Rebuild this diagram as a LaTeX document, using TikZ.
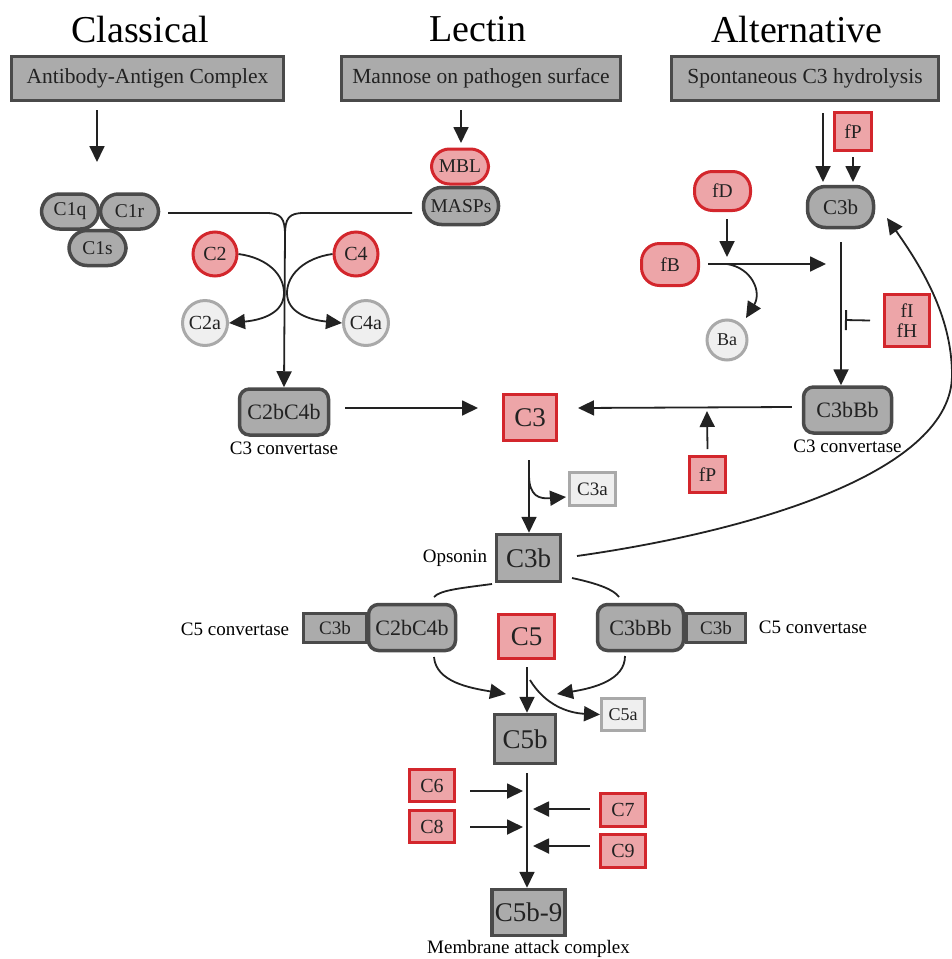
\documentclass[tikz,border=0pt]{standalone}
\usepackage{fontspec}
\setmainfont{Liberation Serif}
\usetikzlibrary{arrows.meta,positioning}
\definecolor{gfill}{HTML}{ABABAB}
\definecolor{gline}{HTML}{4A4A4A}
\definecolor{rfill}{HTML}{EDA5A8}
\definecolor{rline}{HTML}{D3262C}
\definecolor{lfill}{HTML}{EFEFEF}
\definecolor{lline}{HTML}{A9A9A9}
\definecolor{ink}{HTML}{222222}
\tikzset{
  gbox/.style={draw=gline, fill=gfill, line width=3.5pt, inner sep=0pt, text=ink},
  rbox/.style={draw=rline, fill=rfill, line width=3pt, inner sep=0pt, text=ink},
  lbox/.style={draw=lline, fill=lfill, line width=3pt, inner sep=0pt, text=ink},
  pill/.style={rounded corners=18pt},
  rr/.style={rounded corners=10pt},
  lbl/.style={font=\fontsize{19}{21}\selectfont, text=black},
  ln/.style={draw=ink, line width=1.8pt},
  arr/.style={ln, -{Triangle[length=16pt,width=15pt]}},
  inh/.style={ln, -{Bar[width=20pt,line width=2pt]}},
  fs/.style={font=\fontsize{#1}{#1}\selectfont}
}
\begin{document}
\begin{tikzpicture}[x=1pt,y=-1pt]
\useasboundingbox (0,0) rectangle (952,959);
% headings
\node[fs=38] (hcl) at (140,29) {Classical};
\node[fs=38] (hle) at (478,29) {Lectin};
\node[fs=38] (hal) at (797,29) {Alternative};
% trigger boxes
\node[gbox, minimum width=272, minimum height=44, fs=21.5] (ab) at (147.5,78.5) {Antibody-Antigen Complex};
\node[gbox, minimum width=279, minimum height=44, fs=21.5] (man) at (481,78.5) {Mannose on pathogen surface};
\node[gbox, minimum width=267, minimum height=44, fs=21.5] (spo) at (805,78.5) {Spontaneous C3 hydrolysis};
% classical C1
\node[gbox, pill, minimum width=57, minimum height=35, fs=19.5] (c1s) at (97.5,248) {C1s};
\node[gbox, pill, minimum width=57, minimum height=35, fs=19.5] (c1q) at (70,211.5) {C1q};
\node[gbox, pill, minimum width=58, minimum height=35, fs=19.5] (c1r) at (129.5,211.5) {C1r};
\coordinate (c1out) at (168,213);
\draw[arr] (97,110) -- (97,162);
% lectin
\node[rbox, pill, minimum width=57, minimum height=35, fs=19.5] (mbl) at (460,166.5) {MBL};
\node[gbox, pill, minimum width=75, minimum height=37, fs=19.5] (masp) at (461,206) {MASPs};
\coordinate (maspout) at (412,213);
\draw[arr] (461,110) -- (461,143);
% merge
\coordinate (jn) at (285,235);
\node[gbox, rr, minimum width=89, minimum height=46, fs=22] (c2c4) at (284,412) {C2bC4b};
\node[lbl, below=2pt of c2c4] (cc1) {C3 convertase};
\draw[ln] (c1out) -- (266,213) .. controls (281,213) and (285,218) .. (jn);
\draw[ln] (maspout) -- (304,213) .. controls (289,213) and (285,218) .. (jn);
\draw[arr] (jn) -- (c2c4.north);
% C2 / C4
\node[rbox, circle, minimum size=44, fs=20] (c2) at (215,254) {C2};
\node[rbox, circle, minimum size=44, fs=20] (c4) at (356,254) {C4};
\node[lbox, circle, minimum size=45, fs=20] (c2a) at (205,323) {C2a};
\node[lbox, circle, minimum size=45, fs=20] (c4a) at (366,323) {C4a};
\draw[arr] (c2.east) .. controls (268,258) and (284,275) .. (284,293) .. controls (284,313) and (262,320) .. (c2a.east);
\draw[arr] (c4.west) .. controls (304,258) and (287,275) .. (287,293) .. controls (287,313) and (310,320) .. (c4a.west);
% C3
\node[rbox, minimum width=53, minimum height=46, fs=27] (c3) at (530,417.5) {C3};
\coordinate (c3in1) at (478,408);
\coordinate (c3in2) at (578,408);
\draw[arr] (345,408) -- (c3in1);
% alternative
\node[rbox, minimum width=37, minimum height=38, fs=19.5] (fp1) at (853,131.5) {fP};
\node[gbox, pill, minimum width=66, minimum height=41, fs=21] (c3bt) at (840.5,207) {C3b};
\draw[arr] (823,113) -- (823,182);
\draw[arr] (853,157) -- (853,182);
\node[rbox, pill, minimum width=56, minimum height=39, fs=19.5] (fd) at (722.5,191) {fD};
\node[rbox, pill, minimum width=57, minimum height=42, fs=19.5] (fb) at (670,264.5) {fB};
\node[lbox, circle, minimum size=40, fs=18] (ba) at (727,340) {Ba};
\draw[arr] (fd.south) ++(4.5,7) -- (727,257);
\coordinate (fbj) at (727,264);
\draw[ln] (708,264) -- (fbj);
\draw[arr] (fbj) -- (826,264);
\draw[arr] (fbj) .. controls (752,268) and (762,292) .. (746,318);
\node[gbox, rr, minimum width=88, minimum height=46, fs=22] (c3bbb) at (847.5,410) {C3bBb};
\node[lbl, below=2pt of c3bbb] (cc2) {C3 convertase};
\coordinate (vtop) at (841,242);
\draw[arr] (vtop) -- (c3bbb.north -| vtop);
\node[rbox, minimum width=45, minimum height=52, fs=19.5, align=center] (fih) at (907,320.5) {fI\\[1pt]fH};
\draw[inh] (fih.west) ++(-13,0) -- (845,320);
\draw[arr] (c3bbb.west) ++(-10,-3) -- (c3in2);
\node[rbox, minimum width=36, minimum height=36, fs=19.5] (fp2) at (707.5,474.5) {fP};
\draw[arr] (fp2.north) ++(0,-6) -- (707,411);
% C3 -> C3b
\node[lbox, minimum width=46, minimum height=33, fs=19] (c3a) at (592.5,489) {C3a};
\node[gbox, minimum width=64, minimum height=47, fs=27] (c3b) at (528.5,558) {C3b};
\node[lbl, left=4pt of c3b] (ops) {Opsonin};
\draw[arr] (529,460) -- (c3b.north -| 529,0);
\draw[arr] (529,475) .. controls (529,497) and (540,499) .. (566,497);
% feedback curve
\draw[arr] (577,556) .. controls (760,530) and (952,470) .. (952,375) .. controls (952,315) and (920,265) .. (887,218);
% C5 convertases
\node[gbox, minimum width=63, minimum height=29, fs=19] (c3bl) at (335,628) {C3b};
\node[gbox, rr, minimum width=87, minimum height=46, fs=22] (c2c4l) at (412,627.5) {C2bC4b};
\node[gbox, minimum width=59, minimum height=29, fs=19] (c3br) at (716,628) {C3b};
\node[gbox, rr, minimum width=86, minimum height=46, fs=22] (c3bbbl) at (640.5,627.5) {C3bBb};
\node[lbl] (c5cl) at (235,629) {C5 convertase};
\node[lbl] (c5cr) at (813,627) {C5 convertase};
\node[rbox, minimum width=56, minimum height=44, fs=27] (c5) at (526.5,636.5) {C5};
\draw[ln] (492,584) .. controls (462,588) and (440,590) .. (434,597);
\draw[ln] (572,578) .. controls (600,584) and (614,590) .. (619,597);
\node[gbox, minimum width=61, minimum height=49, fs=27] (c5b) at (525,739) {C5b};
\node[lbox, minimum width=43, minimum height=32, fs=18] (c5a) at (623,714.5) {C5a};
\draw[arr] (434,657) .. controls (436,682) and (470,688) .. (506,694);
\draw[arr] (625,656) .. controls (625,680) and (594,688) .. (557,694);
\draw[arr] (527,667) -- (c5b.north -| 527,0);
\draw[arr] (530,680) .. controls (545,705) and (568,713) .. (c5a.west);
% terminal
\node[rbox, minimum width=45, minimum height=32, fs=20] (c6) at (432,785.5) {C6};
\node[rbox, minimum width=45, minimum height=32, fs=20] (c8) at (432,826.5) {C8};
\node[rbox, minimum width=45, minimum height=33, fs=20] (c7) at (623,810) {C7};
\node[rbox, minimum width=45, minimum height=33, fs=20] (c9) at (623,851) {C9};
\node[gbox, minimum width=73, minimum height=46, fs=27] (mac) at (528.5,912.5) {C5b-9};
\node[lbl, below=0pt of mac] (macl) {Membrane attack complex};
\draw[arr] (527,773) -- (mac.north -| 527,0);
\draw[arr] (470,791) -- (523,791);
\draw[arr] (470,827) -- (523,827);
\draw[arr] (590,809) -- (533,809);
\draw[arr] (590,846) -- (533,846);
\end{tikzpicture}
\end{document}
